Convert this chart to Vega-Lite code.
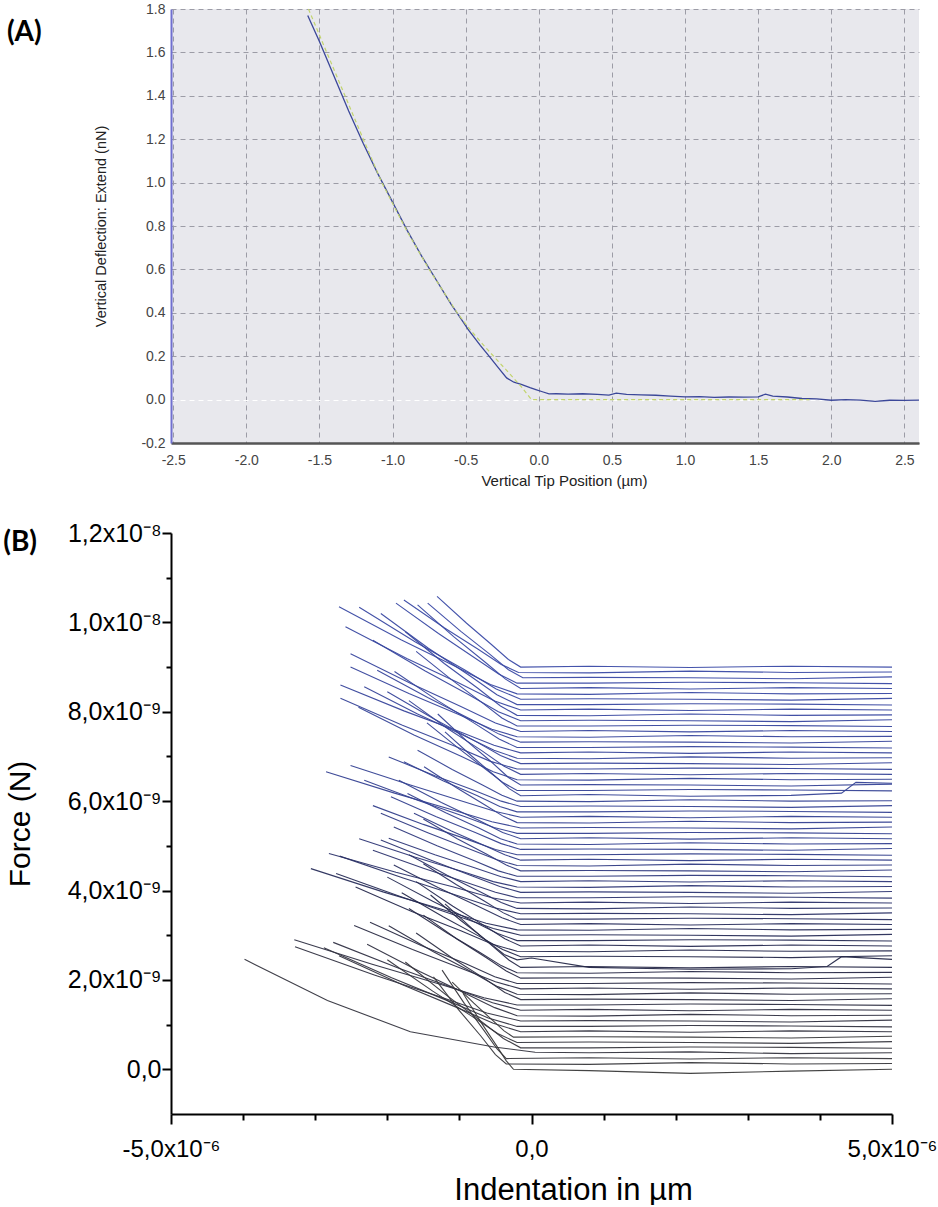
{
"$schema": "https://vega.github.io/schema/vega-lite/v6.json",
"padding": {"left": 3, "top": 2, "right": 0, "bottom": 0},
"spacing": 33,
"background": "white",
"config": {
  "view": {"stroke": null},
  "axis": {"labelFont": "Liberation Sans", "titleFont": "Liberation Sans", "titleFontWeight": "normal", "labelFlush": false, "labelOverlap": false},
  "title": {"font": "Lato", "fontWeight": "bold", "fontSize": 28, "color": "black", "anchor": "start", "frame": "bounds", "baseline": "top", "offset": 0}
},
"datasets": {
  "ablue": [
    {"x":-1.58,"y":1.77},{"x":-1.5,"y":1.65},{"x":-1.4,"y":1.49},{"x":-1.3,"y":1.33},{"x":-1.2,"y":1.18},{"x":-1.1,"y":1.04},{"x":-1.0,"y":0.91},{"x":-0.9,"y":0.78},{"x":-0.8,"y":0.66},{"x":-0.7,"y":0.55},{"x":-0.6,"y":0.44},{"x":-0.55,"y":0.39},{"x":-0.48,"y":0.32},{"x":-0.4,"y":0.25},{"x":-0.34,"y":0.2},{"x":-0.28,"y":0.15},{"x":-0.22,"y":0.1},{"x":-0.17,"y":0.08},{"x":-0.12,"y":0.07},{"x":-0.06,"y":0.055},{"x":-0.02,"y":0.046},{"x":0.03,"y":0.035},{"x":0.07,"y":0.026},{"x":0.12,"y":0.027},{"x":0.2,"y":0.025},{"x":0.3,"y":0.027},{"x":0.4,"y":0.024},{"x":0.48,"y":0.021},{"x":0.53,"y":0.03},{"x":0.6,"y":0.024},{"x":0.7,"y":0.022},{"x":0.8,"y":0.02},{"x":0.9,"y":0.016},{"x":1.0,"y":0.013},{"x":1.1,"y":0.014},{"x":1.2,"y":0.01},{"x":1.3,"y":0.012},{"x":1.4,"y":0.011},{"x":1.5,"y":0.013},{"x":1.55,"y":0.025},{"x":1.6,"y":0.016},{"x":1.7,"y":0.012},{"x":1.8,"y":0.005},{"x":1.9,"y":0.003},{"x":2.0,"y":-0.003},{"x":2.1,"y":0.0},{"x":2.2,"y":-0.002},{"x":2.3,"y":-0.008},{"x":2.4,"y":-0.003},{"x":2.5,"y":-0.004},{"x":2.6,"y":-0.002}
  ],
  "afit": [
    {"x":-1.575,"y":1.8},{"x":-1.4,"y":1.52},{"x":-1.2,"y":1.2},{"x":-1.073,"y":1.0},{"x":-0.9,"y":0.775},{"x":-0.75,"y":0.6},{"x":-0.558,"y":0.4},{"x":-0.467,"y":0.32},{"x":-0.35,"y":0.23},{"x":-0.2,"y":0.12},{"x":-0.12,"y":0.06},{"x":-0.05,"y":0.0},{"x":1.85,"y":0.0}
  ],
  "b": [
{"c":1,"x":-1.31,"y":10.58},{"c":1,"x":-0.90,"y":9.98},{"c":1,"x":-0.56,"y":9.51},{"c":1,"x":-0.32,"y":9.17},{"c":1,"x":-0.15,"y":9.00},{"c":1,"x":0.8,"y":9.02},{"c":1,"x":2.2,"y":8.99},{"c":1,"x":3.6,"y":9.02},{"c":1,"x":5.0,"y":9.00},
{"c":2,"x":-1.77,"y":10.50},{"c":2,"x":-1.21,"y":9.88},{"c":2,"x":-0.74,"y":9.40},{"c":2,"x":-0.42,"y":9.06},{"c":2,"x":-0.18,"y":8.88},{"c":2,"x":0.8,"y":8.87},{"c":2,"x":2.2,"y":8.91},{"c":2,"x":3.6,"y":8.88},{"c":2,"x":5.0,"y":8.89},
{"c":3,"x":-1.44,"y":10.43},{"c":3,"x":-0.98,"y":9.80},{"c":3,"x":-0.58,"y":9.29},{"c":3,"x":-0.32,"y":8.94},{"c":3,"x":-0.12,"y":8.76},{"c":3,"x":0.8,"y":8.77},{"c":3,"x":2.2,"y":8.76},{"c":3,"x":3.6,"y":8.74},{"c":3,"x":5.0,"y":8.78},
{"c":4,"x":-1.88,"y":10.43},{"c":4,"x":-1.29,"y":9.75},{"c":4,"x":-0.79,"y":9.21},{"c":4,"x":-0.45,"y":8.84},{"c":4,"x":-0.20,"y":8.64},{"c":4,"x":0.8,"y":8.64},{"c":4,"x":2.2,"y":8.66},{"c":4,"x":3.6,"y":8.65},{"c":4,"x":5.0,"y":8.63},
{"c":5,"x":-1.58,"y":10.39},{"c":5,"x":-1.08,"y":9.68},{"c":5,"x":-0.65,"y":9.12},{"c":5,"x":-0.36,"y":8.73},{"c":5,"x":-0.15,"y":8.52},{"c":5,"x":0.8,"y":8.54},{"c":5,"x":2.2,"y":8.51},{"c":5,"x":3.6,"y":8.54},{"c":5,"x":5.0,"y":8.52},
{"c":6,"x":-2.67,"y":10.35},{"c":6,"x":-1.81,"y":9.61},{"c":6,"x":-1.06,"y":9.02},{"c":6,"x":-0.57,"y":8.61},{"c":6,"x":-0.20,"y":8.40},{"c":6,"x":0.8,"y":8.39},{"c":6,"x":2.2,"y":8.43},{"c":6,"x":3.6,"y":8.40},{"c":6,"x":5.0,"y":8.41},
{"c":7,"x":-2.39,"y":10.34},{"c":7,"x":-1.61,"y":9.56},{"c":7,"x":-0.93,"y":8.94},{"c":7,"x":-0.49,"y":8.51},{"c":7,"x":-0.15,"y":8.28},{"c":7,"x":0.8,"y":8.29},{"c":7,"x":2.2,"y":8.28},{"c":7,"x":3.6,"y":8.26},{"c":7,"x":5.0,"y":8.30},
{"c":8,"x":-2.09,"y":10.20},{"c":8,"x":-1.43,"y":9.42},{"c":8,"x":-0.86,"y":8.81},{"c":8,"x":-0.48,"y":8.38},{"c":8,"x":-0.20,"y":8.16},{"c":8,"x":0.8,"y":8.16},{"c":8,"x":2.2,"y":8.18},{"c":8,"x":3.6,"y":8.17},{"c":8,"x":5.0,"y":8.15},
{"c":9,"x":-2.58,"y":9.90},{"c":9,"x":-1.73,"y":9.19},{"c":9,"x":-1.00,"y":8.64},{"c":9,"x":-0.51,"y":8.24},{"c":9,"x":-0.15,"y":8.04},{"c":9,"x":0.8,"y":8.06},{"c":9,"x":2.2,"y":8.03},{"c":9,"x":3.6,"y":8.06},{"c":9,"x":5.0,"y":8.04},
{"c":10,"x":-1.75,"y":9.79},{"c":10,"x":-1.21,"y":9.08},{"c":10,"x":-0.74,"y":8.52},{"c":10,"x":-0.43,"y":8.13},{"c":10,"x":-0.20,"y":7.92},{"c":10,"x":0.8,"y":7.91},{"c":10,"x":2.2,"y":7.95},{"c":10,"x":3.6,"y":7.92},{"c":10,"x":5.0,"y":7.93},
{"c":11,"x":-2.20,"y":9.60},{"c":11,"x":-1.48,"y":8.92},{"c":11,"x":-0.87,"y":8.38},{"c":11,"x":-0.46,"y":8.00},{"c":11,"x":-0.15,"y":7.80},{"c":11,"x":0.8,"y":7.81},{"c":11,"x":2.2,"y":7.80},{"c":11,"x":3.6,"y":7.78},{"c":11,"x":5.0,"y":7.82},
{"c":12,"x":-1.60,"y":9.35},{"c":12,"x":-1.11,"y":8.72},{"c":12,"x":-0.69,"y":8.21},{"c":12,"x":-0.41,"y":7.86},{"c":12,"x":-0.20,"y":7.68},{"c":12,"x":0.8,"y":7.68},{"c":12,"x":2.2,"y":7.70},{"c":12,"x":3.6,"y":7.69},{"c":12,"x":5.0,"y":7.67},
{"c":13,"x":-2.51,"y":9.30},{"c":13,"x":-1.68,"y":8.64},{"c":13,"x":-0.98,"y":8.12},{"c":13,"x":-0.50,"y":7.75},{"c":13,"x":-0.15,"y":7.56},{"c":13,"x":0.8,"y":7.58},{"c":13,"x":2.2,"y":7.55},{"c":13,"x":3.6,"y":7.58},{"c":13,"x":5.0,"y":7.56},
{"c":14,"x":-2.51,"y":9.00},{"c":14,"x":-1.70,"y":8.41},{"c":14,"x":-1.01,"y":7.94},{"c":14,"x":-0.55,"y":7.61},{"c":14,"x":-0.20,"y":7.44},{"c":14,"x":0.8,"y":7.43},{"c":14,"x":2.2,"y":7.47},{"c":14,"x":3.6,"y":7.44},{"c":14,"x":5.0,"y":7.45},
{"c":15,"x":-2.14,"y":8.93},{"c":15,"x":-1.44,"y":8.32},{"c":15,"x":-0.85,"y":7.84},{"c":15,"x":-0.45,"y":7.50},{"c":15,"x":-0.15,"y":7.32},{"c":15,"x":0.8,"y":7.33},{"c":15,"x":2.2,"y":7.32},{"c":15,"x":3.6,"y":7.30},{"c":15,"x":5.0,"y":7.34},
{"c":16,"x":-1.90,"y":8.90},{"c":16,"x":-1.30,"y":8.25},{"c":16,"x":-0.79,"y":7.74},{"c":16,"x":-0.45,"y":7.39},{"c":16,"x":-0.20,"y":7.20},{"c":16,"x":0.8,"y":7.20},{"c":16,"x":2.2,"y":7.22},{"c":16,"x":3.6,"y":7.21},{"c":16,"x":5.0,"y":7.19},
{"c":17,"x":-2.65,"y":8.60},{"c":17,"x":-1.77,"y":8.02},{"c":17,"x":-1.02,"y":7.57},{"c":17,"x":-0.52,"y":7.25},{"c":17,"x":-0.15,"y":7.08},{"c":17,"x":0.8,"y":7.10},{"c":17,"x":2.2,"y":7.07},{"c":17,"x":3.6,"y":7.10},{"c":17,"x":5.0,"y":7.08},
{"c":18,"x":-2.32,"y":8.56},{"c":18,"x":-1.58,"y":7.95},{"c":18,"x":-0.94,"y":7.47},{"c":18,"x":-0.52,"y":7.14},{"c":18,"x":-0.20,"y":6.96},{"c":18,"x":0.8,"y":6.95},{"c":18,"x":2.2,"y":6.99},{"c":18,"x":3.6,"y":6.96},{"c":18,"x":5.0,"y":6.97},
{"c":19,"x":-2.00,"y":8.45},{"c":19,"x":-1.35,"y":7.84},{"c":19,"x":-0.80,"y":7.36},{"c":19,"x":-0.43,"y":7.02},{"c":19,"x":-0.15,"y":6.84},{"c":19,"x":0.8,"y":6.85},{"c":19,"x":2.2,"y":6.84},{"c":19,"x":3.6,"y":6.82},{"c":19,"x":5.0,"y":6.86},
{"c":20,"x":-2.65,"y":8.30},{"c":20,"x":-1.79,"y":7.70},{"c":20,"x":-1.06,"y":7.23},{"c":20,"x":-0.57,"y":6.89},{"c":20,"x":-0.20,"y":6.72},{"c":20,"x":0.8,"y":6.72},{"c":20,"x":2.2,"y":6.74},{"c":20,"x":3.6,"y":6.73},{"c":20,"x":5.0,"y":6.71},
{"c":21,"x":-1.70,"y":8.25},{"c":21,"x":-1.16,"y":7.62},{"c":21,"x":-0.69,"y":7.13},{"c":21,"x":-0.38,"y":6.78},{"c":21,"x":-0.15,"y":6.60},{"c":21,"x":0.8,"y":6.62},{"c":21,"x":2.2,"y":6.59},{"c":21,"x":3.6,"y":6.62},{"c":21,"x":5.0,"y":6.60},
{"c":22,"x":-2.40,"y":8.10},{"c":22,"x":-1.63,"y":7.48},{"c":22,"x":-0.97,"y":7.00},{"c":22,"x":-0.53,"y":6.66},{"c":22,"x":-0.20,"y":6.48},{"c":22,"x":0.8,"y":6.47},{"c":22,"x":2.2,"y":6.51},{"c":22,"x":3.6,"y":6.48},{"c":22,"x":5.0,"y":6.49},
{"c":23,"x":-1.30,"y":7.95},{"c":23,"x":-0.90,"y":7.35},{"c":23,"x":-0.55,"y":6.87},{"c":23,"x":-0.32,"y":6.53},{"c":23,"x":-0.15,"y":6.36},{"c":23,"x":0.8,"y":6.37},{"c":23,"x":2.2,"y":6.36},{"c":23,"x":3.6,"y":6.34},{"c":23,"x":5.0,"y":6.38},
{"c":24,"x":-1.45,"y":7.75},{"c":24,"x":-1.01,"y":7.18},{"c":24,"x":-0.64,"y":6.72},{"c":24,"x":-0.39,"y":6.41},{"c":24,"x":-0.20,"y":6.24},{"c":24,"x":0.8,"y":6.24},{"c":24,"x":2.2,"y":6.26},{"c":24,"x":3.6,"y":6.25},{"c":24,"x":5.0,"y":6.23},
{"c":25,"x":-1.20,"y":7.55},{"c":25,"x":-0.83,"y":7.01},{"c":25,"x":-0.52,"y":6.58},{"c":25,"x":-0.31,"y":6.28},{"c":25,"x":-0.15,"y":6.12},{"c":25,"x":0.8,"y":6.15},{"c":25,"x":2.2,"y":6.11},{"c":25,"x":3.6,"y":6.13},{"c":25,"x":4.3,"y":6.18},{"c":25,"x":4.5,"y":6.42},{"c":25,"x":5.0,"y":6.40},
{"c":26,"x":-1.58,"y":7.14},{"c":26,"x":-1.10,"y":6.71},{"c":26,"x":-0.68,"y":6.36},{"c":26,"x":-0.41,"y":6.13},{"c":26,"x":-0.20,"y":6.00},{"c":26,"x":0.8,"y":5.99},{"c":26,"x":2.2,"y":6.03},{"c":26,"x":3.6,"y":6.00},{"c":26,"x":5.0,"y":6.01},
{"c":27,"x":-1.98,"y":6.99},{"c":27,"x":-1.34,"y":6.57},{"c":27,"x":-0.79,"y":6.24},{"c":27,"x":-0.42,"y":6.00},{"c":27,"x":-0.15,"y":5.88},{"c":27,"x":0.8,"y":5.89},{"c":27,"x":2.2,"y":5.88},{"c":27,"x":3.6,"y":5.86},{"c":27,"x":5.0,"y":5.90},
{"c":28,"x":-1.77,"y":6.88},{"c":28,"x":-1.22,"y":6.45},{"c":28,"x":-0.75,"y":6.12},{"c":28,"x":-0.44,"y":5.88},{"c":28,"x":-0.20,"y":5.76},{"c":28,"x":0.8,"y":5.76},{"c":28,"x":2.2,"y":5.78},{"c":28,"x":3.6,"y":5.77},{"c":28,"x":5.0,"y":5.75},
{"c":29,"x":-2.51,"y":6.80},{"c":29,"x":-1.68,"y":6.36},{"c":29,"x":-0.98,"y":6.01},{"c":29,"x":-0.50,"y":5.77},{"c":29,"x":-0.15,"y":5.64},{"c":29,"x":0.8,"y":5.66},{"c":29,"x":2.2,"y":5.63},{"c":29,"x":3.6,"y":5.66},{"c":29,"x":5.0,"y":5.64},
{"c":30,"x":-1.49,"y":6.77},{"c":30,"x":-1.04,"y":6.30},{"c":30,"x":-0.65,"y":5.92},{"c":30,"x":-0.39,"y":5.66},{"c":30,"x":-0.20,"y":5.52},{"c":30,"x":0.8,"y":5.51},{"c":30,"x":2.2,"y":5.55},{"c":30,"x":3.6,"y":5.52},{"c":30,"x":5.0,"y":5.53},
{"c":31,"x":-2.85,"y":6.66},{"c":31,"x":-1.90,"y":6.18},{"c":31,"x":-1.09,"y":5.80},{"c":31,"x":-0.55,"y":5.54},{"c":31,"x":-0.15,"y":5.40},{"c":31,"x":0.8,"y":5.41},{"c":31,"x":2.2,"y":5.40},{"c":31,"x":3.6,"y":5.38},{"c":31,"x":5.0,"y":5.42},
{"c":32,"x":-2.32,"y":6.47},{"c":32,"x":-1.58,"y":6.02},{"c":32,"x":-0.94,"y":5.66},{"c":32,"x":-0.52,"y":5.41},{"c":32,"x":-0.20,"y":5.28},{"c":32,"x":0.8,"y":5.28},{"c":32,"x":2.2,"y":5.30},{"c":32,"x":3.6,"y":5.29},{"c":32,"x":5.0,"y":5.27},
{"c":33,"x":-1.84,"y":6.47},{"c":33,"x":-1.25,"y":5.97},{"c":33,"x":-0.74,"y":5.58},{"c":33,"x":-0.40,"y":5.30},{"c":33,"x":-0.15,"y":5.16},{"c":33,"x":0.8,"y":5.18},{"c":33,"x":2.2,"y":5.15},{"c":33,"x":3.6,"y":5.18},{"c":33,"x":5.0,"y":5.16},
{"c":34,"x":-1.72,"y":6.17},{"c":34,"x":-1.19,"y":5.74},{"c":34,"x":-0.73,"y":5.40},{"c":34,"x":-0.43,"y":5.16},{"c":34,"x":-0.20,"y":5.04},{"c":34,"x":0.8,"y":5.03},{"c":34,"x":2.2,"y":5.07},{"c":34,"x":3.6,"y":5.04},{"c":34,"x":5.0,"y":5.05},
{"c":35,"x":-1.95,"y":6.10},{"c":35,"x":-1.32,"y":5.65},{"c":35,"x":-0.78,"y":5.30},{"c":35,"x":-0.42,"y":5.05},{"c":35,"x":-0.15,"y":4.92},{"c":35,"x":0.8,"y":4.93},{"c":35,"x":2.2,"y":4.92},{"c":35,"x":3.6,"y":4.90},{"c":35,"x":5.0,"y":4.94},
{"c":36,"x":-2.20,"y":5.90},{"c":36,"x":-1.50,"y":5.48},{"c":36,"x":-0.90,"y":5.15},{"c":36,"x":-0.50,"y":4.92},{"c":36,"x":-0.20,"y":4.80},{"c":36,"x":0.8,"y":4.80},{"c":36,"x":2.2,"y":4.82},{"c":36,"x":3.6,"y":4.81},{"c":36,"x":5.0,"y":4.79},
{"c":37,"x":-1.63,"y":5.73},{"c":37,"x":-1.11,"y":5.33},{"c":37,"x":-0.67,"y":5.02},{"c":37,"x":-0.37,"y":4.80},{"c":37,"x":-0.15,"y":4.68},{"c":37,"x":0.8,"y":4.70},{"c":37,"x":2.2,"y":4.67},{"c":37,"x":3.6,"y":4.70},{"c":37,"x":5.0,"y":4.68},
{"c":38,"x":-2.09,"y":5.73},{"c":38,"x":-1.43,"y":5.29},{"c":38,"x":-0.86,"y":4.93},{"c":38,"x":-0.48,"y":4.69},{"c":38,"x":-0.20,"y":4.56},{"c":38,"x":0.8,"y":4.55},{"c":38,"x":2.2,"y":4.59},{"c":38,"x":3.6,"y":4.56},{"c":38,"x":5.0,"y":4.57},
{"c":39,"x":-1.50,"y":5.60},{"c":39,"x":-1.03,"y":5.16},{"c":39,"x":-0.62,"y":4.81},{"c":39,"x":-0.35,"y":4.57},{"c":39,"x":-0.15,"y":4.44},{"c":39,"x":0.8,"y":4.45},{"c":39,"x":2.2,"y":4.44},{"c":39,"x":3.6,"y":4.42},{"c":39,"x":5.0,"y":4.46},
{"c":40,"x":-1.91,"y":5.42},{"c":40,"x":-1.31,"y":5.00},{"c":40,"x":-0.80,"y":4.67},{"c":40,"x":-0.46,"y":4.44},{"c":40,"x":-0.20,"y":4.32},{"c":40,"x":0.8,"y":4.32},{"c":40,"x":2.2,"y":4.34},{"c":40,"x":3.6,"y":4.33},{"c":40,"x":5.0,"y":4.31},
{"c":41,"x":-1.98,"y":5.17},{"c":41,"x":-1.34,"y":4.80},{"c":41,"x":-0.79,"y":4.51},{"c":41,"x":-0.42,"y":4.31},{"c":41,"x":-0.15,"y":4.20},{"c":41,"x":0.8,"y":4.22},{"c":41,"x":2.2,"y":4.19},{"c":41,"x":3.6,"y":4.22},{"c":41,"x":5.0,"y":4.20},
{"c":42,"x":-2.39,"y":5.16},{"c":42,"x":-1.62,"y":4.75},{"c":42,"x":-0.97,"y":4.43},{"c":42,"x":-0.53,"y":4.20},{"c":42,"x":-0.20,"y":4.08},{"c":42,"x":0.8,"y":4.07},{"c":42,"x":2.2,"y":4.11},{"c":42,"x":3.6,"y":4.08},{"c":42,"x":5.0,"y":4.09},
{"c":43,"x":-2.09,"y":5.13},{"c":43,"x":-1.41,"y":4.69},{"c":43,"x":-0.83,"y":4.33},{"c":43,"x":-0.44,"y":4.09},{"c":43,"x":-0.15,"y":3.96},{"c":43,"x":0.8,"y":3.97},{"c":43,"x":2.2,"y":3.96},{"c":43,"x":3.6,"y":3.94},{"c":43,"x":5.0,"y":3.98},
{"c":44,"x":-2.20,"y":4.90},{"c":44,"x":-1.50,"y":4.50},{"c":44,"x":-0.90,"y":4.18},{"c":44,"x":-0.50,"y":3.96},{"c":44,"x":-0.20,"y":3.84},{"c":44,"x":0.8,"y":3.84},{"c":44,"x":2.2,"y":3.86},{"c":44,"x":3.6,"y":3.85},{"c":44,"x":5.0,"y":3.83},
{"c":45,"x":-2.81,"y":4.83},{"c":45,"x":-1.88,"y":4.41},{"c":45,"x":-1.08,"y":4.08},{"c":45,"x":-0.55,"y":3.84},{"c":45,"x":-0.15,"y":3.72},{"c":45,"x":0.8,"y":3.74},{"c":45,"x":2.2,"y":3.71},{"c":45,"x":3.6,"y":3.74},{"c":45,"x":5.0,"y":3.72},
{"c":46,"x":-1.70,"y":4.80},{"c":46,"x":-1.17,"y":4.34},{"c":46,"x":-0.72,"y":3.98},{"c":46,"x":-0.42,"y":3.73},{"c":46,"x":-0.20,"y":3.60},{"c":46,"x":0.8,"y":3.59},{"c":46,"x":2.2,"y":3.63},{"c":46,"x":3.6,"y":3.60},{"c":46,"x":5.0,"y":3.61},
{"c":47,"x":-2.66,"y":4.77},{"c":47,"x":-1.78,"y":4.28},{"c":47,"x":-1.03,"y":3.89},{"c":47,"x":-0.53,"y":3.62},{"c":47,"x":-0.15,"y":3.48},{"c":47,"x":0.8,"y":3.49},{"c":47,"x":2.2,"y":3.48},{"c":47,"x":3.6,"y":3.46},{"c":47,"x":5.0,"y":3.50},
{"c":48,"x":-1.50,"y":4.60},{"c":48,"x":-1.04,"y":4.13},{"c":48,"x":-0.65,"y":3.76},{"c":48,"x":-0.39,"y":3.50},{"c":48,"x":-0.20,"y":3.36},{"c":48,"x":0.8,"y":3.36},{"c":48,"x":2.2,"y":3.38},{"c":48,"x":3.6,"y":3.37},{"c":48,"x":5.0,"y":3.35},
{"c":49,"x":-1.91,"y":4.57},{"c":49,"x":-1.29,"y":4.06},{"c":49,"x":-0.77,"y":3.67},{"c":49,"x":-0.41,"y":3.39},{"c":49,"x":-0.15,"y":3.24},{"c":49,"x":0.8,"y":3.26},{"c":49,"x":2.2,"y":3.23},{"c":49,"x":3.6,"y":3.26},{"c":49,"x":5.0,"y":3.24},
{"c":50,"x":-3.06,"y":4.49},{"c":50,"x":-2.06,"y":3.97},{"c":50,"x":-1.20,"y":3.56},{"c":50,"x":-0.63,"y":3.27},{"c":50,"x":-0.20,"y":3.12},{"c":50,"x":0.8,"y":3.11},{"c":50,"x":2.2,"y":3.15},{"c":50,"x":3.6,"y":3.12},{"c":50,"x":5.0,"y":3.13},
{"c":51,"x":-2.71,"y":4.38},{"c":51,"x":-1.81,"y":3.86},{"c":51,"x":-1.05,"y":3.44},{"c":51,"x":-0.53,"y":3.15},{"c":51,"x":-0.15,"y":3.00},{"c":51,"x":0.8,"y":3.01},{"c":51,"x":2.2,"y":3.00},{"c":51,"x":3.6,"y":2.98},{"c":51,"x":5.0,"y":3.02},
{"c":52,"x":-2.00,"y":4.30},{"c":52,"x":-1.37,"y":3.76},{"c":52,"x":-0.83,"y":3.33},{"c":52,"x":-0.47,"y":3.04},{"c":52,"x":-0.20,"y":2.88},{"c":52,"x":0.8,"y":2.88},{"c":52,"x":2.2,"y":2.90},{"c":52,"x":3.6,"y":2.89},{"c":52,"x":5.0,"y":2.87},
{"c":53,"x":-1.60,"y":4.20},{"c":53,"x":-1.09,"y":3.65},{"c":53,"x":-0.66,"y":3.22},{"c":53,"x":-0.37,"y":2.92},{"c":53,"x":-0.15,"y":2.76},{"c":53,"x":0.8,"y":2.78},{"c":53,"x":2.2,"y":2.75},{"c":53,"x":3.6,"y":2.78},{"c":53,"x":5.0,"y":2.76},
{"c":54,"x":-2.44,"y":4.08},{"c":54,"x":-1.66,"y":3.53},{"c":54,"x":-0.98,"y":3.10},{"c":54,"x":-0.54,"y":2.80},{"c":54,"x":-0.20,"y":2.64},{"c":54,"x":0.8,"y":2.63},{"c":54,"x":2.2,"y":2.67},{"c":54,"x":3.6,"y":2.64},{"c":54,"x":5.0,"y":2.65},
{"c":55,"x":-1.80,"y":3.95},{"c":55,"x":-1.22,"y":3.41},{"c":55,"x":-0.73,"y":2.98},{"c":55,"x":-0.40,"y":2.68},{"c":55,"x":-0.15,"y":2.52},{"c":55,"x":0.8,"y":2.53},{"c":55,"x":2.2,"y":2.52},{"c":55,"x":3.6,"y":2.50},{"c":55,"x":5.0,"y":2.54},
{"c":56,"x":-1.40,"y":3.90},{"c":56,"x":-0.98,"y":3.33},{"c":56,"x":-0.62,"y":2.88},{"c":56,"x":-0.38,"y":2.57},{"c":56,"x":-0.20,"y":2.45},{"c":56,"x":0.0,"y":2.49},{"c":56,"x":0.8,"y":2.28},{"c":56,"x":2.2,"y":2.24},{"c":56,"x":3.6,"y":2.25},{"c":56,"x":4.1,"y":2.30},{"c":56,"x":4.3,"y":2.52},{"c":56,"x":5.0,"y":2.46},
{"c":57,"x":-1.20,"y":3.70},{"c":57,"x":-0.83,"y":3.16},{"c":57,"x":-0.52,"y":2.73},{"c":57,"x":-0.31,"y":2.44},{"c":57,"x":-0.15,"y":2.28},{"c":57,"x":0.8,"y":2.30},{"c":57,"x":2.2,"y":2.27},{"c":57,"x":3.6,"y":2.30},{"c":57,"x":5.0,"y":2.28},
{"c":58,"x":-1.70,"y":3.60},{"c":58,"x":-1.17,"y":3.05},{"c":58,"x":-0.72,"y":2.62},{"c":58,"x":-0.42,"y":2.32},{"c":58,"x":-0.20,"y":2.16},{"c":58,"x":0.8,"y":2.15},{"c":58,"x":2.2,"y":2.19},{"c":58,"x":3.6,"y":2.16},{"c":58,"x":5.0,"y":2.17},
{"c":59,"x":-1.50,"y":3.45},{"c":59,"x":-1.03,"y":2.91},{"c":59,"x":-0.62,"y":2.49},{"c":59,"x":-0.35,"y":2.20},{"c":59,"x":-0.15,"y":2.04},{"c":59,"x":0.8,"y":2.05},{"c":59,"x":2.2,"y":2.04},{"c":59,"x":3.6,"y":2.02},{"c":59,"x":5.0,"y":2.06},
{"c":60,"x":-2.24,"y":3.29},{"c":60,"x":-1.53,"y":2.77},{"c":60,"x":-0.91,"y":2.36},{"c":60,"x":-0.51,"y":2.07},{"c":60,"x":-0.20,"y":1.92},{"c":60,"x":0.8,"y":1.92},{"c":60,"x":2.2,"y":1.94},{"c":60,"x":3.6,"y":1.93},{"c":60,"x":5.0,"y":1.91},
{"c":61,"x":-2.46,"y":3.22},{"c":61,"x":-1.65,"y":2.68},{"c":61,"x":-0.96,"y":2.25},{"c":61,"x":-0.50,"y":1.96},{"c":61,"x":-0.15,"y":1.80},{"c":61,"x":0.8,"y":1.82},{"c":61,"x":2.2,"y":1.79},{"c":61,"x":3.6,"y":1.82},{"c":61,"x":5.0,"y":1.80},
{"c":62,"x":-1.98,"y":3.21},{"c":62,"x":-1.36,"y":2.63},{"c":62,"x":-0.82,"y":2.17},{"c":62,"x":-0.47,"y":1.85},{"c":62,"x":-0.20,"y":1.68},{"c":62,"x":0.8,"y":1.67},{"c":62,"x":2.2,"y":1.71},{"c":62,"x":3.6,"y":1.68},{"c":62,"x":5.0,"y":1.69},
{"c":63,"x":-1.60,"y":3.05},{"c":63,"x":-1.09,"y":2.48},{"c":63,"x":-0.66,"y":2.04},{"c":63,"x":-0.37,"y":1.72},{"c":63,"x":-0.15,"y":1.56},{"c":63,"x":0.8,"y":1.57},{"c":63,"x":2.2,"y":1.56},{"c":63,"x":3.6,"y":1.54},{"c":63,"x":5.0,"y":1.58},
{"c":64,"x":-3.29,"y":2.90},{"c":64,"x":-2.21,"y":2.35},{"c":64,"x":-1.28,"y":1.91},{"c":64,"x":-0.66,"y":1.60},{"c":64,"x":-0.20,"y":1.44},{"c":64,"x":0.8,"y":1.44},{"c":64,"x":2.2,"y":1.46},{"c":64,"x":3.6,"y":1.45},{"c":64,"x":5.0,"y":1.43},
{"c":65,"x":-2.75,"y":2.84},{"c":65,"x":-1.84,"y":2.26},{"c":65,"x":-1.06,"y":1.81},{"c":65,"x":-0.54,"y":1.49},{"c":65,"x":-0.15,"y":1.32},{"c":65,"x":0.8,"y":1.34},{"c":65,"x":2.2,"y":1.31},{"c":65,"x":3.6,"y":1.34},{"c":65,"x":5.0,"y":1.32},
{"c":66,"x":-2.28,"y":2.80},{"c":66,"x":-1.55,"y":2.19},{"c":66,"x":-0.93,"y":1.71},{"c":66,"x":-0.51,"y":1.38},{"c":66,"x":-0.20,"y":1.20},{"c":66,"x":0.8,"y":1.19},{"c":66,"x":2.2,"y":1.23},{"c":66,"x":3.6,"y":1.20},{"c":66,"x":5.0,"y":1.21},
{"c":67,"x":-3.28,"y":2.74},{"c":67,"x":-2.18,"y":2.11},{"c":67,"x":-1.25,"y":1.61},{"c":67,"x":-0.62,"y":1.26},{"c":67,"x":-0.15,"y":1.08},{"c":67,"x":0.8,"y":1.09},{"c":67,"x":2.2,"y":1.08},{"c":67,"x":3.6,"y":1.06},{"c":67,"x":5.0,"y":1.10},
{"c":68,"x":-2.88,"y":2.72},{"c":68,"x":-1.94,"y":2.05},{"c":68,"x":-1.14,"y":1.52},{"c":68,"x":-0.60,"y":1.15},{"c":68,"x":-0.20,"y":0.96},{"c":68,"x":0.8,"y":0.96},{"c":68,"x":2.2,"y":0.98},{"c":68,"x":3.6,"y":0.97},{"c":68,"x":5.0,"y":0.95},
{"c":69,"x":-2.67,"y":2.54},{"c":69,"x":-1.79,"y":1.89},{"c":69,"x":-1.03,"y":1.38},{"c":69,"x":-0.53,"y":1.03},{"c":69,"x":-0.15,"y":0.84},{"c":69,"x":0.8,"y":0.86},{"c":69,"x":2.2,"y":0.83},{"c":69,"x":3.6,"y":0.86},{"c":69,"x":5.0,"y":0.84},
{"c":70,"x":-3.98,"y":2.46},{"c":70,"x":-2.83,"y":1.54},{"c":70,"x":-1.68,"y":0.84},{"c":70,"x":-0.52,"y":0.50},{"c":70,"x":0.05,"y":0.38},{"c":70,"x":0.8,"y":0.37},{"c":70,"x":2.2,"y":0.39},{"c":70,"x":3.6,"y":0.35},{"c":70,"x":5.0,"y":0.37},
{"c":71,"x":-2.00,"y":2.45},{"c":71,"x":-1.37,"y":1.75},{"c":71,"x":-0.83,"y":1.19},{"c":71,"x":-0.47,"y":0.80},{"c":71,"x":-0.20,"y":0.60},{"c":71,"x":0.8,"y":0.61},{"c":71,"x":2.2,"y":0.60},{"c":71,"x":3.6,"y":0.58},{"c":71,"x":5.0,"y":0.62},
{"c":72,"x":-1.75,"y":2.40},{"c":72,"x":-1.19,"y":1.67},{"c":72,"x":-0.71,"y":1.09},{"c":72,"x":-0.39,"y":0.69},{"c":72,"x":-0.15,"y":0.48},{"c":72,"x":0.8,"y":0.48},{"c":72,"x":2.2,"y":0.50},{"c":72,"x":3.6,"y":0.49},{"c":72,"x":5.0,"y":0.47},
{"c":73,"x":-1.24,"y":2.22},{"c":73,"x":-0.93,"y":1.47},{"c":73,"x":-0.66,"y":0.87},{"c":73,"x":-0.48,"y":0.46},{"c":73,"x":-0.35,"y":0.24},{"c":73,"x":0.8,"y":0.26},{"c":73,"x":2.2,"y":0.23},{"c":73,"x":3.6,"y":0.26},{"c":73,"x":5.0,"y":0.24},
{"c":74,"x":-1.36,"y":2.07},{"c":74,"x":-1.01,"y":1.33},{"c":74,"x":-0.70,"y":0.74},{"c":74,"x":-0.50,"y":0.33},{"c":74,"x":-0.35,"y":0.12},{"c":74,"x":0.8,"y":0.11},{"c":74,"x":2.2,"y":0.15},{"c":74,"x":3.6,"y":0.12},{"c":74,"x":5.0,"y":0.13},
{"c":75,"x":-1.10,"y":1.95},{"c":75,"x":-0.80,"y":1.48},{"c":75,"x":-0.55,"y":1.11},{"c":75,"x":-0.38,"y":0.86},{"c":75,"x":-0.25,"y":0.72},{"c":75,"x":0.8,"y":0.73},{"c":75,"x":2.2,"y":0.72},{"c":75,"x":3.6,"y":0.70},{"c":75,"x":5.0,"y":0.74},
{"c":76,"x":-0.95,"y":1.70},{"c":76,"x":-0.70,"y":1.05},{"c":76,"x":-0.49,"y":0.54},{"c":76,"x":-0.35,"y":0.19},{"c":76,"x":-0.25,"y":0.00},{"c":76,"x":0.8,"y":-0.03},{"c":76,"x":2.2,"y":-0.09},{"c":76,"x":3.6,"y":-0.04},{"c":76,"x":5.0,"y":0.00}
  ]
},
"vconcat": [
  {
    "width": 748,
    "height": 434,
    "view": {"fill": "#e8e8ed", "stroke": null},
    "title": {"text": "(A)", "dx": -87, "dy": 49},
    "encoding": {
      "x": {"field": "x", "type": "quantitative",
            "scale": {"domain": [-2.515, 2.6], "nice": false, "zero": false},
            "axis": {"values": [-2.5,-2,-1.5,-1,-0.5,0,0.5,1,1.5,2,2.5],
                     "labelExpr": "datum.value < 0 ? '-' + format(-datum.value, '.1f') : format(datum.value, '.1f')",
                     "grid": true, "gridDash": [5,4], "gridColor": "#9c9ca6", "gridWidth": 1,
                     "domainColor": "#555555", "domainWidth": 2.5, "ticks": false, "labelFontSize": 14, "labelColor": "#444444", "labelPadding": 10,
                     "title": "Vertical Tip Position (µm)", "titleFontSize": 15, "titleColor": "#222222", "titlePadding": 6, "titleX": 393}},
      "y": {"field": "y", "type": "quantitative",
            "scale": {"domain": [-0.2, 1.8], "nice": false, "zero": false},
            "axis": {"values": [-0.2,0,0.2,0.4,0.6,0.8,1,1.2,1.4,1.6,1.8],
                     "labelExpr": "datum.value < 0 ? '-' + format(-datum.value, '.1f') : format(datum.value, '.1f')",
                     "grid": true, "gridDash": [5,4],
                     "gridColor": {"condition": {"test": "datum.value == 0", "value": "#ffffff"}, "value": "#9c9ca6"}, "gridWidth": 1,
                     "domainColor": "#7070d0", "domainWidth": 2, "ticks": false, "labelFontSize": 14, "labelColor": "#444444", "labelPadding": 6,
                     "title": "Vertical Deflection: Extend (nN)", "titleFontSize": 14.5, "titleColor": "#222222", "titlePadding": 32}}
    },
    "layer": [
      {
        "data": {"name": "ablue"},
        "mark": {"type": "line", "color": "#3b4799", "strokeWidth": 1.3}
      },
      {
        "data": {"name": "afit"},
        "mark": {"type": "line", "color": "#c2d46e", "strokeWidth": 1.2, "strokeDash": [4, 3]}
      }
    ]
  },
  {
    "width": 721,
    "height": 581,
    "title": {"text": "(B)", "dx": -2, "dy": 40},
    "data": {"name": "b"},
    "mark": {"type": "line", "strokeWidth": 1.1, "opacity": 0.95},
    "encoding": {
      "x": {"field": "x", "type": "quantitative",
            "scale": {"domain": [-5, 5], "nice": false, "zero": false},
            "axis": {"values": [-5,-4,-3,-2,-1,0,1,2,3,4,5],
                     "labelExpr": "datum.value == -5 ? '-5,0x10⁻⁶' : datum.value == 0 ? '0,0' : datum.value == 5 ? '5,0x10⁻⁶' : ''",
                     "tickSize": {"condition": {"test": "datum.value % 5 == 0", "value": 10}, "value": 6},
                     "grid": false, "domainColor": "black", "domainWidth": 2, "tickColor": "black", "tickWidth": 2,
                     "labelFontSize": 24, "labelColor": "black", "labelPadding": 13,
                     "title": "Indentation in µm", "titleFontSize": 31, "titleColor": "black", "titlePadding": 14, "titleX": 402}},
      "y": {"field": "y", "type": "quantitative",
            "scale": {"domain": [-1, 12], "nice": false, "zero": false},
            "axis": {"values": [0,1,2,3,4,5,6,7,8,9,10,11,12],
                     "labelExpr": "datum.value == 0 ? '0,0' : datum.value == 2 ? '2,0x10⁻⁹' : datum.value == 4 ? '4,0x10⁻⁹' : datum.value == 6 ? '6,0x10⁻⁹' : datum.value == 8 ? '8,0x10⁻⁹' : datum.value == 10 ? '1,0x10⁻⁸' : datum.value == 12 ? '1,2x10⁻⁸' : ''",
                     "tickSize": {"condition": {"test": "datum.value % 2 == 0", "value": 9}, "value": 5},
                     "grid": false, "domainColor": "black", "domainWidth": 2, "tickColor": "black", "tickWidth": 2,
                     "labelFontSize": 25, "labelColor": "black", "labelPadding": 1,
                     "title": "Force (N)", "titleFontSize": 30, "titleColor": "black", "titlePadding": 32}},
      "color": {"field": "c", "type": "quantitative", "legend": null,
                "scale": {"domain": [1, 35, 55, 76], "range": ["#3a4aa6", "#34408f", "#25284a", "#3a3a3a"]}},
      "detail": {"field": "c", "type": "nominal"}
    }
  }
]
}
